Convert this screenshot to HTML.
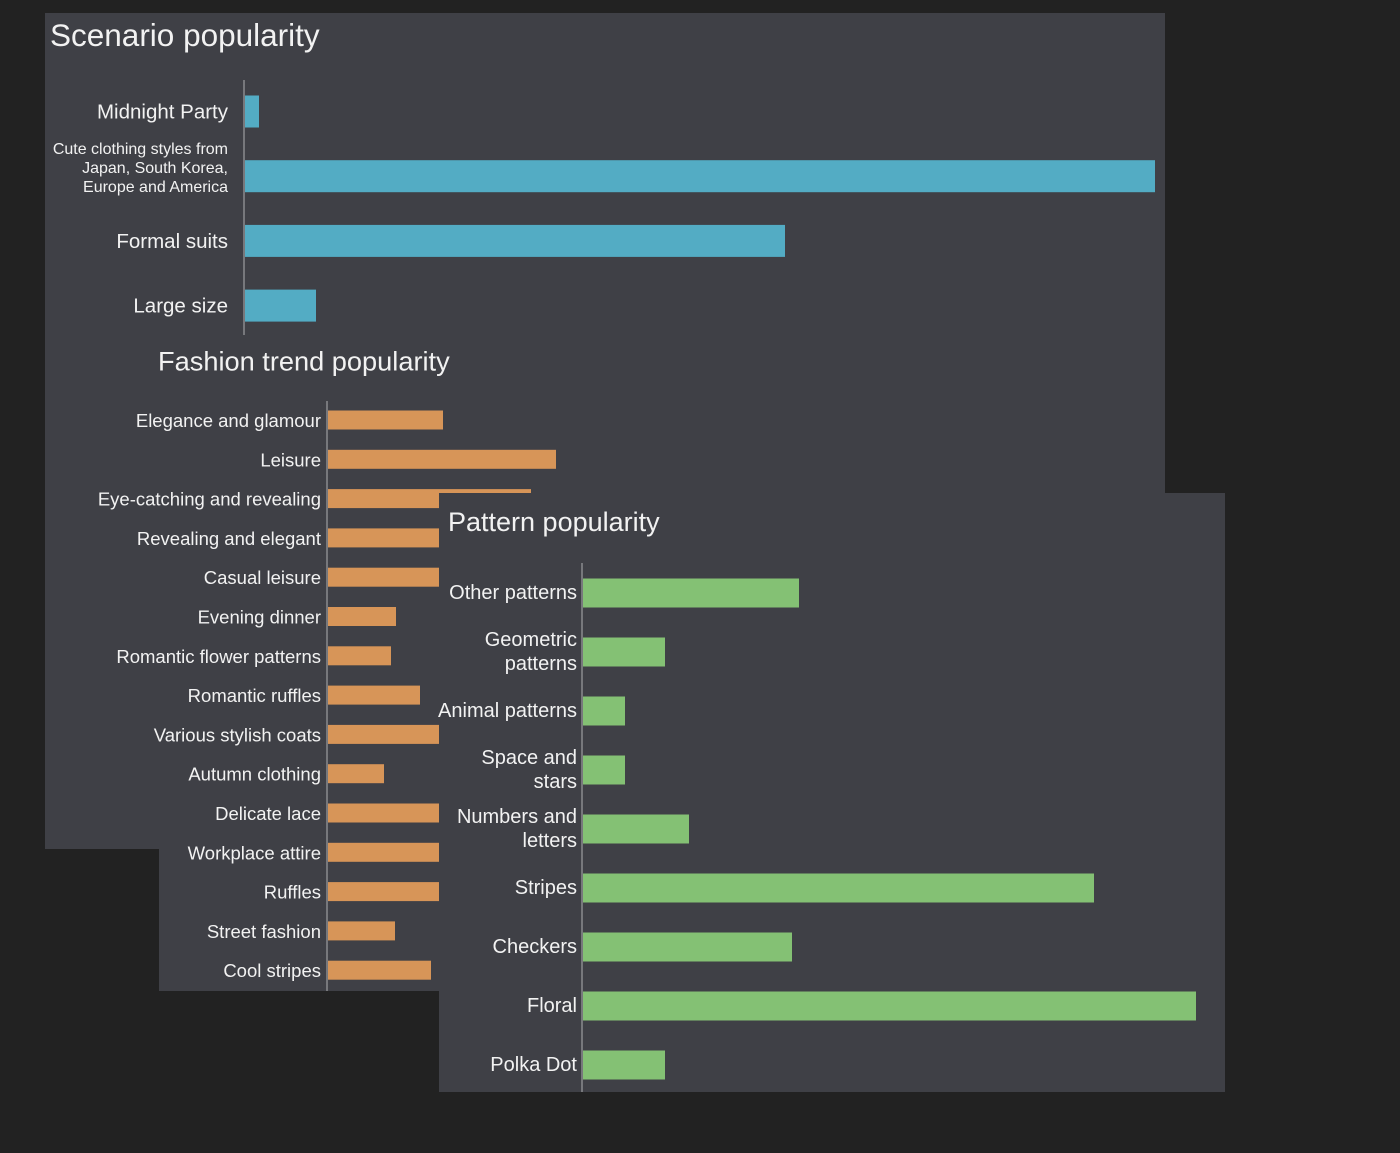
<!DOCTYPE html>
<html><head><meta charset="utf-8"><style>
html,body{margin:0;padding:0;background:#222222;}
svg{display:block;font-family:"Liberation Sans",Arial,sans-serif;}
text{fill:#f2f2f2;}
</style></head><body>
<svg id="chart" width="1400" height="1153" viewBox="0 0 1400 1153">
<rect x="0" y="0" width="1400" height="1153" fill="#222222"/>
</svg>
<script>
// Scenario chart data
const scenarioCats = ["Midnight Party", "Cute clothing styles from|Japan, South Korea,|Europe and America", "Formal suits", "Large size"];
const scenarioVals = [15, 911, 541, 72];
// Fashion trend data
const fashionCats = ["Elegance and glamour","Leisure","Eye-catching and revealing","Revealing and elegant","Casual leisure","Evening dinner","Romantic flower patterns","Romantic ruffles","Various stylish coats","Autumn clothing","Delicate lace","Workplace attire","Ruffles","Street fashion","Cool stripes"];
const fashionVals = [116, 229, 204, 150, 140, 69, 64, 93, 150, 57, 145, 150, 155, 68, 104];
// Pattern data
const patternCats = ["Other patterns","Geometric|patterns","Animal patterns","Space and|stars","Numbers and|letters","Stripes","Checkers","Floral","Polka Dot"];
const patternVals = [217, 83, 43, 43, 107, 512, 210, 614, 83];

const NS = "http://www.w3.org/2000/svg";
const svg = document.getElementById("chart");
function mk(tag, attrs, parent){
  const e = document.createElementNS(NS, tag);
  for (const k in attrs) e.setAttribute(k, attrs[k]);
  (parent||svg).appendChild(e);
  return e;
}
function drawChart(cfg){
  const panel = mk("rect",{x:cfg.px,y:cfg.py,width:cfg.pw,height:cfg.ph,fill:"#3f4046"});
  
  
  const g = mk("g",{});
  
  
  const t = mk("text",{x:cfg.tx,y:cfg.ty,"font-size":cfg.tsize,"dominant-baseline":"central"},g);
  t.textContent = cfg.title;
  
  
  const x = v => cfg.ax + v*cfg.scale;
  const y = i => cfg.y0 + i*cfg.step;
  cfg.cats.forEach((c,i)=>{
    const b = mk("rect",{x:cfg.ax+1,y:y(i)-cfg.bh/2,width:Math.max(0,x(cfg.vals[i])-cfg.ax-1),height:cfg.bh,fill:cfg.color},g);
    
    
    const lines = c.split("|");
    const lab = mk("text",{x:cfg.ax-cfg.gap,"font-size":lines.length>1?cfg.lsize2:cfg.lsize,"text-anchor":"end","dominant-baseline":"central"},g);
    
    
    const lh = lines.length>1?cfg.lh:0;
    const off = lines.length>1?cfg.moff:0;
    lines.forEach((ln,k)=>{
      const ts = mk("tspan",{x:cfg.ax-cfg.gap,y:y(i)+off-(lines.length-1)*lh/2+k*lh},lab);
      ts.textContent = ln;
    });
  });
  const axis = mk("line",{x1:cfg.ax,x2:cfg.ax,y1:cfg.ay1,y2:cfg.ay2,stroke:"#8a8a8e","stroke-width":1.5},g);
  
  
}
drawChart({name:"scenario",title:"Scenario popularity",px:45,py:13,pw:1120,ph:836,tx:50,ty:35,tsize:31.5,
  cats:scenarioCats,vals:scenarioVals,ax:244,scale:1,y0:111.5,step:64.7,bh:32,color:"#53acc4",
  gap:16,lsize:20.5,lsize2:16,lh:19,moff:-8,ay1:80,ay2:337});
drawChart({name:"fashion",title:"Fashion trend popularity",px:159,py:335,pw:540,ph:656,tx:158,ty:361,tsize:27.2,
  cats:fashionCats,vals:fashionVals,ax:327,scale:1,y0:420,step:39.3,bh:19,color:"#d79558",
  gap:6,lsize:18.5,lsize2:18.5,lh:20,moff:0,ay1:401,ay2:991});
drawChart({name:"pattern",title:"Pattern popularity",px:439,py:493,pw:786,ph:599,tx:448,ty:522,tsize:27,
  cats:patternCats,vals:patternVals,ax:582,scale:1,y0:593,step:59,bh:29,color:"#84c174",
  gap:5,lsize:20,lsize2:20,lh:24,moff:0,ay1:563,ay2:1092});
</script>
</body></html>
